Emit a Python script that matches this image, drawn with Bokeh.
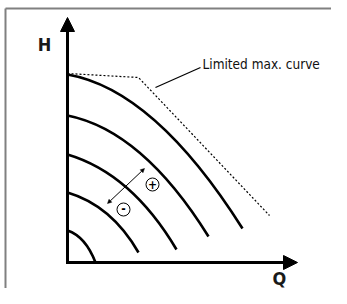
from bokeh.plotting import figure
from bokeh.models import Range1d, Arrow, NormalHead, ColumnDataSource
from bokeh.core.properties import value
from bokeh.embed import file_html
from bokeh.resources import INLINE

# Pump curves (flow Q, head H) - start, control and end points of each curve
shutoff_head = [188, 147, 108, 70, 32]
ctrl_flow = [87, 75, 64, 44, 18]
ctrl_head = [173, 132, 89, 57, 26]
end_flow = [175, 141, 109, 71, 28]
end_head = [34, 26, 13, 10, 0]

# Limited max. curve
limit_q = [0, 71, 202]
limit_h = [189, 185, 47]

FONT = "DejaVu Sans Condensed"

p = figure(width=331, height=288, x_range=Range1d(-67, 264), y_range=Range1d(-26, 262),
           output_backend="svg", toolbar_location=None, min_border=0,
           x_axis_type=None, y_axis_type=None)
p.grid.visible = False
p.outline_line_color = None
p.background_fill_color = "white"

# frame border (left & top)
p.line(x=[-62, -62], y=[-40, 254], line_color="#808080", line_width=2)
p.line(x=[-62, 280], y=[254, 254], line_color="#808080", line_width=2)

# axes with arrows
p.add_layout(Arrow(x_start=0, y_start=-1.5, x_end=0, y_end=245, line_width=3, line_color="black",
                   end=NormalHead(size=14, fill_color="black", line_color="black", line_width=1)))
p.add_layout(Arrow(x_start=-1.5, y_start=0, x_end=230, y_end=0, line_width=3, line_color="black",
                   end=NormalHead(size=14, fill_color="black", line_color="black", line_width=1)))

# pump curves
src = ColumnDataSource(dict(x0=[0] * len(shutoff_head), y0=shutoff_head, cx=ctrl_flow, cy=ctrl_head,
                            x1=end_flow, y1=end_head))
p.quadratic(x0="x0", y0="y0", x1="x1", y1="y1", cx="cx", cy="cy", source=src,
            line_color="black", line_width=2.6)

# limited max curve
p.line(limit_q, limit_h, line_color="black", line_width=1.2, line_dash="2 2")

# leader line + label
p.line([88, 133], [175, 195], line_color="black", line_width=1.1)
p.text(x=[135], y=[199], text=["Limited max. curve"], text_font=value(FONT),
       text_font_size="13.5px", text_baseline="middle", text_align="left", text_color="#111111")

# axis labels
p.text(x=[-23], y=[218], text=["H"], text_font=value(FONT), text_font_style="bold",
       text_font_size="18px", text_baseline="middle", text_align="center", text_color="#1a1a1a")
p.text(x=[212], y=[-16], text=["Q"], text_font=value(FONT), text_font_style="bold",
       text_font_size="18px", text_baseline="middle", text_align="center", text_color="#1a1a1a")

# +/- adjustment arrow
p.add_layout(Arrow(x_start=40, y_start=59, x_end=77, y_end=94, line_width=1, line_color="black",
                   start=NormalHead(size=4, fill_color="black", line_color="black", line_width=0.5),
                   end=NormalHead(size=4, fill_color="black", line_color="black", line_width=0.5)))
p.scatter(x=[85, 56], y=[78, 53], size=13, marker="circle", fill_color="white",
          line_color="black", line_width=1)
p.text(x=[85, 56], y=[78.5, 54], text=["+", "-"], text_font=value(FONT), text_font_style="bold",
       text_font_size="12px", text_baseline="middle", text_align="center", text_color="black")

open("out.html", "w").write(file_html(p, INLINE))
